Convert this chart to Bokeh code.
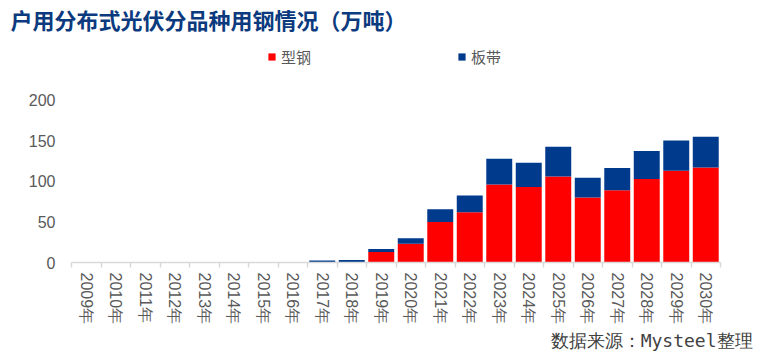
from bokeh.plotting import figure
from bokeh.models import (ColumnDataSource, Range1d, FixedTicker, Title, Legend, LegendItem)
from bokeh.embed import file_html
from bokeh.resources import INLINE

years = ["2009", "2010", "2011", "2012", "2013", "2014", "2015", "2016", "2017", "2018", "2019",
         "2020", "2021", "2022", "2023", "2024", "2025", "2026", "2027", "2028", "2029", "2030"]
xinggang = [0, 0, 0, 0, 0, 0, 0, 0, 0.4, 0.5, 13, 23, 50, 62, 96, 93, 106, 80, 89, 103, 113, 117]
bandai = [0, 0, 0, 0, 0, 0, 0, 0, 2, 2.5, 3.5, 7, 15.5, 20.5, 32, 30, 36.5, 24.5, 27.5, 34.5, 37.5, 38]
tick_labels = [y + "年" for y in years]
y_ticks = [0, 50, 100, 150, 200]

RED = "#FF0000"
BLUE = "#003A8C"
GRAY_TXT = "#595959"
CJK = "Noto Sans CJK SC"

pos = list(range(len(years)))
src = ColumnDataSource(dict(x=pos, xinggang=xinggang, bandai=bandai))

TOP = 33
p = figure(width=760, height=356, output_backend="svg", toolbar_location=None,
           title=None, x_range=Range1d(-0.5, len(years) - 0.5),
           y_range=Range1d(0, 200 * (262 - TOP) / 163),
           min_border_left=71, min_border_right=40, min_border_top=TOP, min_border_bottom=94)
p.outline_line_color = None
p.grid.visible = False
p.background_fill_color = "white"
p.border_fill_color = "white"

r = p.vbar_stack(["xinggang", "bandai"], x="x", width=0.88, color=[RED, BLUE],
                 line_color=None, source=src)

# x axis
xa = p.xaxis[0]
xa.ticker = FixedTicker(ticks=pos, minor_ticks=[i - 0.5 for i in range(len(years) + 1)])
xa.major_label_overrides = {i: t for i, t in zip(pos, tick_labels)}
xa.major_label_orientation = "vertical"
xa.major_label_text_font = "Liberation Sans"
xa.major_label_text_font_size = "16px"
xa.major_label_text_color = GRAY_TXT
xa.major_tick_line_color = None
xa.major_tick_out = 5
xa.major_tick_in = 0
xa.major_label_standoff = 5
xa.minor_tick_line_color = "#D9D9D9"
xa.minor_tick_line_width = 1.5
xa.minor_tick_out = 5
xa.minor_tick_in = 0
xa.axis_line_color = "#D9D9D9"
xa.axis_line_width = 1.5

# y axis
ya = p.yaxis[0]
ya.ticker = FixedTicker(ticks=y_ticks)
ya.axis_line_color = None
ya.major_tick_line_color = None
ya.minor_tick_line_color = None
ya.major_tick_out = 0
ya.major_tick_in = 0
ya.major_label_standoff = 16
ya.major_label_text_font = "Liberation Sans"
ya.major_label_text_font_size = "16px"
ya.major_label_text_color = GRAY_TXT

# legend (inside the extended frame, above the data)
lg = Legend(items=[LegendItem(label=n, renderers=[rr]) for n, rr in zip(["型钢", "板带"], r)],
            location=(196, 195), orientation="horizontal", padding=0, margin=0, spacing=146,
            border_line_color=None, background_fill_alpha=0, glyph_width=9, glyph_height=9,
            label_standoff=5, label_text_font=CJK, label_text_font_size="15px",
            label_text_color=GRAY_TXT)
p.add_layout(lg)

# title
p.add_layout(Title(text="户用分布式光伏分品种用钢情况（万吨）", text_font=CJK,
                   text_font_size="22px", text_font_style="bold", text_color="#0B3A7E",
                   align="left", offset=-61, standoff=0), "above")

# source
p.add_layout(Title(text="数据来源：Mysteel整理", text_font="DejaVu Sans Mono",
                   text_font_size="18px", text_font_style="normal", text_color="#404040",
                   align="right", offset=-32, standoff=1), "below")

open("out.html", "w").write(file_html(p, INLINE))
